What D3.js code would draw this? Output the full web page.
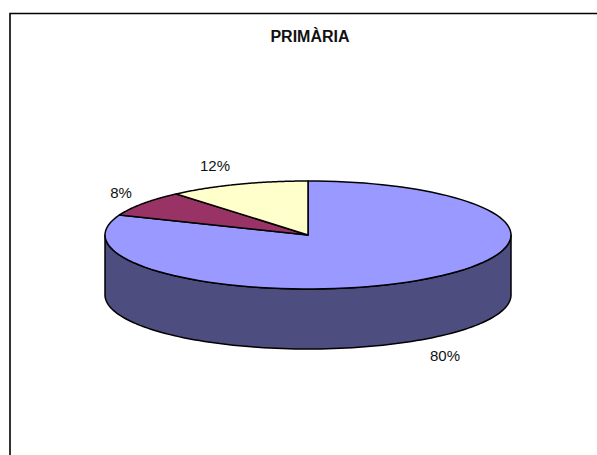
<!DOCTYPE html>
<html lang="ca">
<head>
    <meta charset="UTF-8">
    <title>PRIMÀRIA</title>
    <script src="https://cdn.jsdelivr.net/npm/d3@7/dist/d3.min.js"></script>
    <style>
        html, body { margin: 0; padding: 0; background: #fff; }
        svg { display: block; }
        text { font-family: "Liberation Sans", Arial, sans-serif; fill: #111; }
    </style>
</head>
<body>
    <div id="chart"></div>
    <script>
        // data
        const chartTitle = "PRIMÀRIA";
        const sliceValues = [80, 8, 12];
        const sliceLabels = ["80%", "8%", "12%"];
        const topColors = ["#9999ff", "#993366", "#ffffcc"];
        const sideColor = "#4d4d80";

        const width = 597, height = 455;
        const cx = 308, cy = 235, rx = 203, ry = 54, depth = 60;

        const svg = d3.select("#chart").append("svg")
            .attr("width", width)
            .attr("height", height);

        // frame, only top and left are inside the picture
        svg.append("path")
            .attr("d", `M10,${height}V13.5H${width}`)
            .attr("fill", "none")
            .attr("stroke", "#000")
            .attr("stroke-width", 1.6);

        svg.append("text")
            .attr("x", 310).attr("y", 42)
            .attr("text-anchor", "middle")
            .attr("font-size", 16)
            .attr("font-weight", "bold")
            .text(chartTitle);

        // pie angles, clockwise from 12 o'clock
        const pie = d3.pie().sort(null).value(d => d)(sliceValues);

        const x = d3.scaleLinear().domain([-1, 1]).range([cx - rx, cx + rx]);
        const y = d3.scaleLinear().domain([-1, 1]).range([cy - ry, cy + ry]);

        // 3d perspective pulls the slice edges a little toward the back
        const warp = a => a - 0.07 * Math.sin(a);
        const px = a => x(Math.sin(warp(a)));
        const py = a => y(-Math.cos(warp(a)));

        const line = d3.line();

        function rimPoints(a0, a1, dy) {
            return d3.range(0, 101).map(i => {
                const a = a0 + (a1 - a0) * i / 100;
                return [px(a), py(a) + dy];
            });
        }

        // side wall, visible part of the front half
        const wall = d3.range(0, 101).map(i => Math.PI * (0.5 + i / 100));
        const wallTop = wall.map(a => [x(Math.sin(a)), y(-Math.cos(a))]);
        const wallBottom = wall.slice().reverse().map(a => [x(Math.sin(a)), y(-Math.cos(a)) + depth]);
        svg.append("path")
            .attr("d", line(wallTop.concat(wallBottom)) + "Z")
            .attr("fill", sideColor)
            .attr("stroke", "#000")
            .attr("stroke-width", 1.5)
            .attr("stroke-linejoin", "round");

        // top slices
        svg.selectAll("path.slice")
            .data(pie)
            .enter().append("path")
            .attr("class", "slice")
            .attr("d", d => line([[x(0), y(0)]].concat(rimPoints(d.startAngle, d.endAngle, 0))) + "Z")
            .attr("fill", (d, i) => topColors[i])
            .attr("stroke", "#000")
            .attr("stroke-width", 1.5)
            .attr("stroke-linejoin", "round");

        // labels
        const labelPos = [[445, 361], [121, 198], [215, 171]];
        svg.selectAll("text.label")
            .data(sliceLabels)
            .enter().append("text")
            .attr("class", "label")
            .attr("x", (d, i) => labelPos[i][0])
            .attr("y", (d, i) => labelPos[i][1])
            .attr("text-anchor", "middle")
            .attr("font-size", 15)
            .text(d => d);
    </script>
</body>
</html>
